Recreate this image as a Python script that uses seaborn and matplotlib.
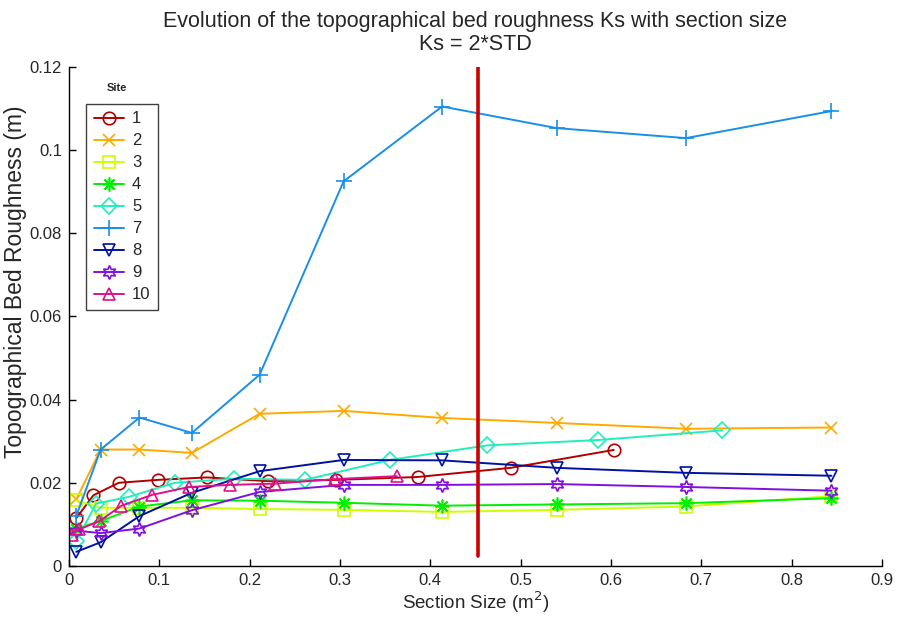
import pandas as pd
import seaborn as sns
import matplotlib.pyplot as plt

# Section sizes (m^2) shared by sites 2, 3, 4, 7, 8 and 9
x_common = [0.008, 0.035, 0.078, 0.136, 0.211, 0.304, 0.413, 0.540, 0.683, 0.844]
# Sites 1, 5 and 10 were cut into other section sizes
x_site1 = [0.008, 0.027, 0.055, 0.098, 0.153, 0.220, 0.296, 0.386, 0.489, 0.603]
x_site5 = [0.008, 0.030, 0.066, 0.117, 0.183, 0.261, 0.355, 0.463, 0.586, 0.723]
x_site10 = [0.003, 0.011, 0.033, 0.058, 0.092, 0.133, 0.178, 0.228, 0.295, 0.363]

# Ks = 2*STD (m)
ks_site1 = [0.0115, 0.0170, 0.0200, 0.0207, 0.0213, 0.0204, 0.0207, 0.0214, 0.0236, 0.0279]
ks_site2 = [0.0160, 0.0280, 0.0280, 0.0272, 0.0366, 0.0373, 0.0356, 0.0344, 0.0330, 0.0333]
ks_site3 = [0.0158, 0.0140, 0.0140, 0.0140, 0.0137, 0.0135, 0.0130, 0.0135, 0.0143, 0.0168]
ks_site4 = [0.0090, 0.0108, 0.0143, 0.0158, 0.0157, 0.0152, 0.0145, 0.0148, 0.0151, 0.0163]
ks_site5 = [0.0060, 0.0150, 0.0166, 0.0200, 0.0210, 0.0207, 0.0255, 0.0290, 0.0303, 0.0326]
ks_site7 = [0.0120, 0.0280, 0.0357, 0.0320, 0.0460, 0.0925, 0.1105, 0.1053, 0.1029, 0.1094]
ks_site8 = [0.0034, 0.0057, 0.0120, 0.0176, 0.0228, 0.0255, 0.0254, 0.0236, 0.0224, 0.0217]
ks_site9 = [0.0085, 0.0079, 0.0090, 0.0134, 0.0178, 0.0195, 0.0195, 0.0197, 0.0190, 0.0181]
ks_site10 = [0.0075, 0.0088, 0.0107, 0.0145, 0.0171, 0.0190, 0.0195, 0.0198, 0.0209, 0.0216]

sites = ['1', '2', '3', '4', '5', '7', '8', '9', '10']
site_x = [x_site1, x_common, x_common, x_common, x_site5, x_common, x_common, x_common, x_site10]
site_ks = [ks_site1, ks_site2, ks_site3, ks_site4, ks_site5, ks_site7, ks_site8, ks_site9, ks_site10]

threshold_x = 0.453
threshold_y = [0.0025, 0.12]

x_ticks = [0, 0.1, 0.2, 0.3, 0.4, 0.5, 0.6, 0.7, 0.8, 0.9]
x_ticklabels = ['0', '0.1', '0.2', '0.3', '0.4', '0.5', '0.6', '0.7', '0.8', '0.9']
y_ticks = [0, 0.02, 0.04, 0.06, 0.08, 0.1, 0.12]
y_ticklabels = ['0', '0.02', '0.04', '0.06', '0.08', '0.1', '0.12']

colors = {'1': '#b00000', '2': '#ffaa00', '3': '#ccff00', '4': '#00ee00', '5': '#20eebb',
          '7': '#1a8fe8', '8': '#0010a0', '9': '#8010e0', '10': '#e0108a'}
markers = {'1': 'o', '2': 'x', '3': 's', '4': (8, 2, 0), '5': 'D',
           '7': '+', '8': 'v', '9': (6, 1, 0), '10': '^'}
msizes = {'1': 9, '2': 9, '3': 8, '4': 10, '5': 8, '7': 11, '8': 9, '9': 10, '10': 9}

# long-form table
df = pd.concat([pd.DataFrame({'Site': s, 'size': x, 'ks': k})
                for s, x, k in zip(sites, site_x, site_ks)], ignore_index=True)

sns.set_style('ticks')
plt.rcParams['font.family'] = ['Liberation Sans', 'DejaVu Sans']
plt.rcParams['xtick.direction'] = 'in'
plt.rcParams['ytick.direction'] = 'in'

fig = plt.figure(figsize=(9.01, 6.17), dpi=100)
ax = fig.add_axes([0.0766, 0.0827, 0.9023, 0.8087])

handles = []
for s in sites:
    d = df[df['Site'] == s]
    sns.lineplot(data=d, x='size', y='ks', ax=ax, color=colors[s], marker=markers[s],
                 markersize=msizes[s], mfc='none', mec=colors[s], mew=1.2, lw=1.4,
                 legend=False)
    handles.append(ax.lines[-1])

ax.plot([threshold_x, threshold_x], threshold_y, color='#cc0000', lw=2.6)

ax.set_xlim(0, 0.9)
ax.set_ylim(0, 0.12)
ax.set_xticks(x_ticks)
ax.set_xticklabels(x_ticklabels, fontsize=12)
ax.set_yticks(y_ticks)
ax.set_yticklabels(y_ticklabels, fontsize=12)
ax.tick_params(length=5, width=1, color='black', pad=5)
sns.despine(ax=ax)
for sp in ['left', 'bottom']:
    ax.spines[sp].set_color('black')
    ax.spines[sp].set_linewidth(1)

ax.set_xlabel('Section Size (m$^2$)', fontsize=13.5, labelpad=1)
ax.set_ylabel('Topographical Bed Roughness (m)', fontsize=16.5)
ax.yaxis.set_label_coords(-0.052, 0.57)
ax.set_title('Evolution of the topographical bed roughness Ks with section size\nKs = 2*STD',
             fontsize=15.5, pad=12, linespacing=1.15)

leg = ax.legend(handles, sites, loc='upper left', bbox_to_anchor=(0.021, 0.926),
                borderaxespad=0, fontsize=12, handlelength=1.8, labelspacing=0.42,
                handletextpad=0.5, borderpad=0.45, fancybox=False, framealpha=1,
                edgecolor='#404040')
leg.get_frame().set_linewidth(1)
ax.text(0.059, 0.958, 'Site', transform=ax.transAxes, fontsize=8, fontweight='bold',
        ha='center', va='center')

fig.savefig('out.png', dpi=100)
